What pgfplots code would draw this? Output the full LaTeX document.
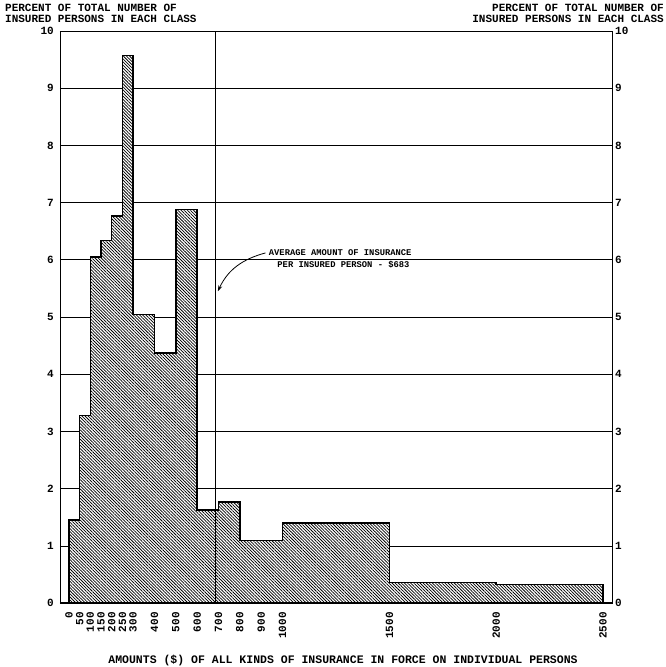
\documentclass[border=0pt]{standalone}
\usepackage{pgfplots}
\pgfplotsset{compat=1.18}
\usetikzlibrary{patterns,patterns.meta,arrows.meta}
\usepackage{fontspec}
\setmainfont{Liberation Mono}
\setmonofont{Liberation Mono}
\begin{document}
\begin{tikzpicture}[font=\fontsize{11}{12}\selectfont\bfseries]
\pgfplotsset{
  common/.style={
    at={(0,0)}, anchor=south west,
    scale only axis, width=552pt, height=572pt,
    xmin=-42, xmax=2542, ymin=0, ymax=10,
    major tick length=0pt,
    /pgf/number format/assume math mode=true,
    /pgf/number format/1000 sep={},
    axis line style={line width=0.9pt},
  }
}
\begin{axis}[common,
  xtick={0,50,100,150,200,250,300,400,500,600,700,800,900,1000,1500,2000,2500},
  xticklabel style={rotate=90, anchor=east, inner sep=0pt},
  xticklabel shift=9pt,
  ytick={0,1,...,10},
  yticklabel pos=left,
  yticklabel style={inner sep=0pt, xshift=-6pt},
  ymajorgrids, grid style={black, line width=0.6pt},
  clip=false,
]
\addplot[const plot, line width=1.5pt, fill=white,
  postaction={pattern={Lines[angle=-45, distance=2.2pt, line width=0.75pt]}}] coordinates {
  (0,1.45) (50,3.28) (100,6.05) (150,6.34) (200,6.77) (250,9.57)
  (300,5.04) (400,4.37) (500,6.88) (600,1.63) (700,1.77) (800,1.09)
  (1000,1.40) (1500,0.36) (2000,0.32) (2500,0.32)
} \closedcycle;
\addplot[line width=1pt] coordinates {(688,0) (688,10)};
\addplot[line width=1.8pt] coordinates {(-42,0) (2542,0)};
\draw[line width=0.8pt, -{Stealth[length=6pt,width=4pt]}]
  (axis cs:920,6.12) to[out=195, in=65] (axis cs:697,5.45);
\node[anchor=west, inner sep=0pt, font=\fontsize{8.8}{10}\selectfont\bfseries]
  at (axis cs:935,6.13) {AVERAGE AMOUNT OF INSURANCE};
\node[anchor=west, inner sep=0pt, font=\fontsize{8.8}{10}\selectfont\bfseries]
  at (axis cs:975,5.92) {PER INSURED PERSON - \$683};
\end{axis}
\begin{axis}[common,
  axis x line=none, axis y line*=right,
  ytick={0,1,...,10},
  yticklabel style={inner sep=0pt, xshift=3pt},
]
\addplot[draw=none] coordinates {(0,0)};
\end{axis}
\node[anchor=north west, align=left, inner sep=0pt, font=\fontsize{11}{11}\selectfont\bfseries]
  at (-55pt,599pt) {PERCENT OF TOTAL NUMBER OF\\INSURED PERSONS IN EACH CLASS};
\node[anchor=north east, align=right, inner sep=0pt, font=\fontsize{11}{11}\selectfont\bfseries]
  at (604pt,599pt) {PERCENT OF TOTAL NUMBER OF\\INSURED PERSONS IN EACH CLASS};
\node[inner sep=0pt, font=\fontsize{11.5}{12}\selectfont\bfseries]
  at (283pt,-57pt) {AMOUNTS (\$) OF ALL KINDS OF INSURANCE IN FORCE ON INDIVIDUAL PERSONS};
\pgfresetboundingbox
\path[use as bounding box] (-60pt,-64pt) rectangle (605pt,603pt);
\end{tikzpicture}
\end{document}
